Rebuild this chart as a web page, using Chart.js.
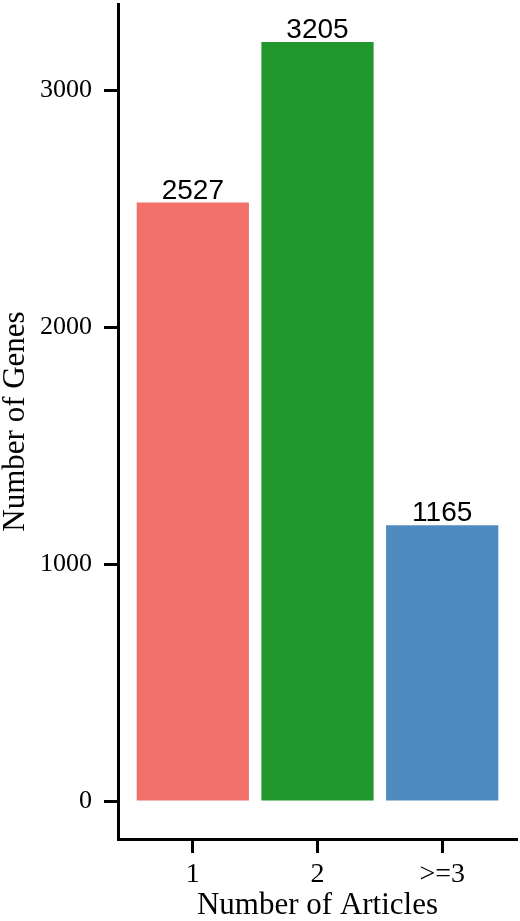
<!DOCTYPE html>
<html>
<head>
<meta charset="utf-8">
<script src="https://cdn.jsdelivr.net/npm/chart.js@4"></script>
<style>
  html, body { margin: 0; padding: 0; background: #fff; }
  #wrap { width: 520px; height: 921px; }
</style>
</head>
<body>
<div id="wrap"><canvas id="genes-chart" width="520" height="921"></canvas></div>
<script>
// data
const categories = ['1', '2', '>=3'];
const geneCounts = [2527, 3205, 1165];
const barColors = ['#F2706A', '#21962C', '#4E8BBF'];
const yTicks = [0, 1000, 2000, 3000];

const ctx = document.getElementById('genes-chart').getContext('2d');
const serif = '"Liberation Serif", "Times New Roman", serif';

// numbers on top of the bars
const valueLabels = {
  id: 'valueLabels',
  afterDatasetsDraw(chart) {
    const meta = chart.getDatasetMeta(0);
    const c = chart.ctx;
    c.save();
    c.font = '28px "Liberation Sans", Arial, sans-serif';
    c.fillStyle = '#000';
    c.textAlign = 'center';
    c.textBaseline = 'alphabetic';
    meta.data.forEach((bar, i) => {
      c.fillText(String(geneCounts[i]), bar.x, bar.y - 4);
    });
    c.restore();
  }
};

new Chart(ctx, {
  type: 'bar',
  data: {
    datasets: [{
      data: geneCounts.map((v, i) => ({ x: i + 1, y: v })),
      backgroundColor: barColors,
      borderWidth: 0,
      categoryPercentage: 1,
      barPercentage: 0.9
    }]
  },
  options: {
    responsive: false,
    animation: false,
    layout: { padding: { top: 4, right: 3, left: 0, bottom: 0 } },
    plugins: {
      legend: { display: false },
      tooltip: { enabled: false }
    },
    scales: {
      x: {
        type: 'linear',
        min: 0.4,
        max: 3.6,
        offset: false,
        afterBuildTicks: axis => { axis.ticks = categories.map((c, i) => ({ value: i + 1 })); },
        afterFit: axis => {
          axis.height = 82;
          axis.paddingLeft = 0;
          axis.paddingRight = 0;
        },
        ticks: {
          callback: v => categories[v - 1],
          color: '#000',
          padding: 5,
          maxRotation: 0,
          autoSkip: false,
          font: { family: serif, size: 28 }
        },
        grid: {
          display: true,
          offset: false,
          drawOnChartArea: false,
          drawTicks: true,
          tickLength: 14,
          tickWidth: 3,
          tickColor: '#000'
        },
        border: { display: true, color: '#000', width: 3 },
        title: {
          display: true,
          text: 'Number of Articles',
          color: '#000',
          padding: 0,
          font: { family: serif, size: 31, lineHeight: 1 }
        }
      },
      y: {
        min: -160,
        max: 3365,
        afterBuildTicks: axis => { axis.ticks = yTicks.map(v => ({ value: v })); },
        afterFit: axis => {
          axis.width = 118;
          axis.paddingTop = 0;
          axis.paddingBottom = 0;
        },
        ticks: {
          callback: v => String(v),
          color: '#000',
          padding: 12,
          font: { family: serif, size: 26 }
        },
        grid: {
          display: true,
          drawOnChartArea: false,
          drawTicks: true,
          tickLength: 14,
          tickWidth: 3,
          tickColor: '#000'
        },
        border: { display: true, color: '#000', width: 3 },
        title: {
          display: true,
          text: 'Number of Genes',
          color: '#000',
          padding: 0,
          font: { family: serif, size: 31, lineHeight: 1 }
        }
      }
    }
  },
  plugins: [valueLabels]
});
</script>
</body>
</html>
